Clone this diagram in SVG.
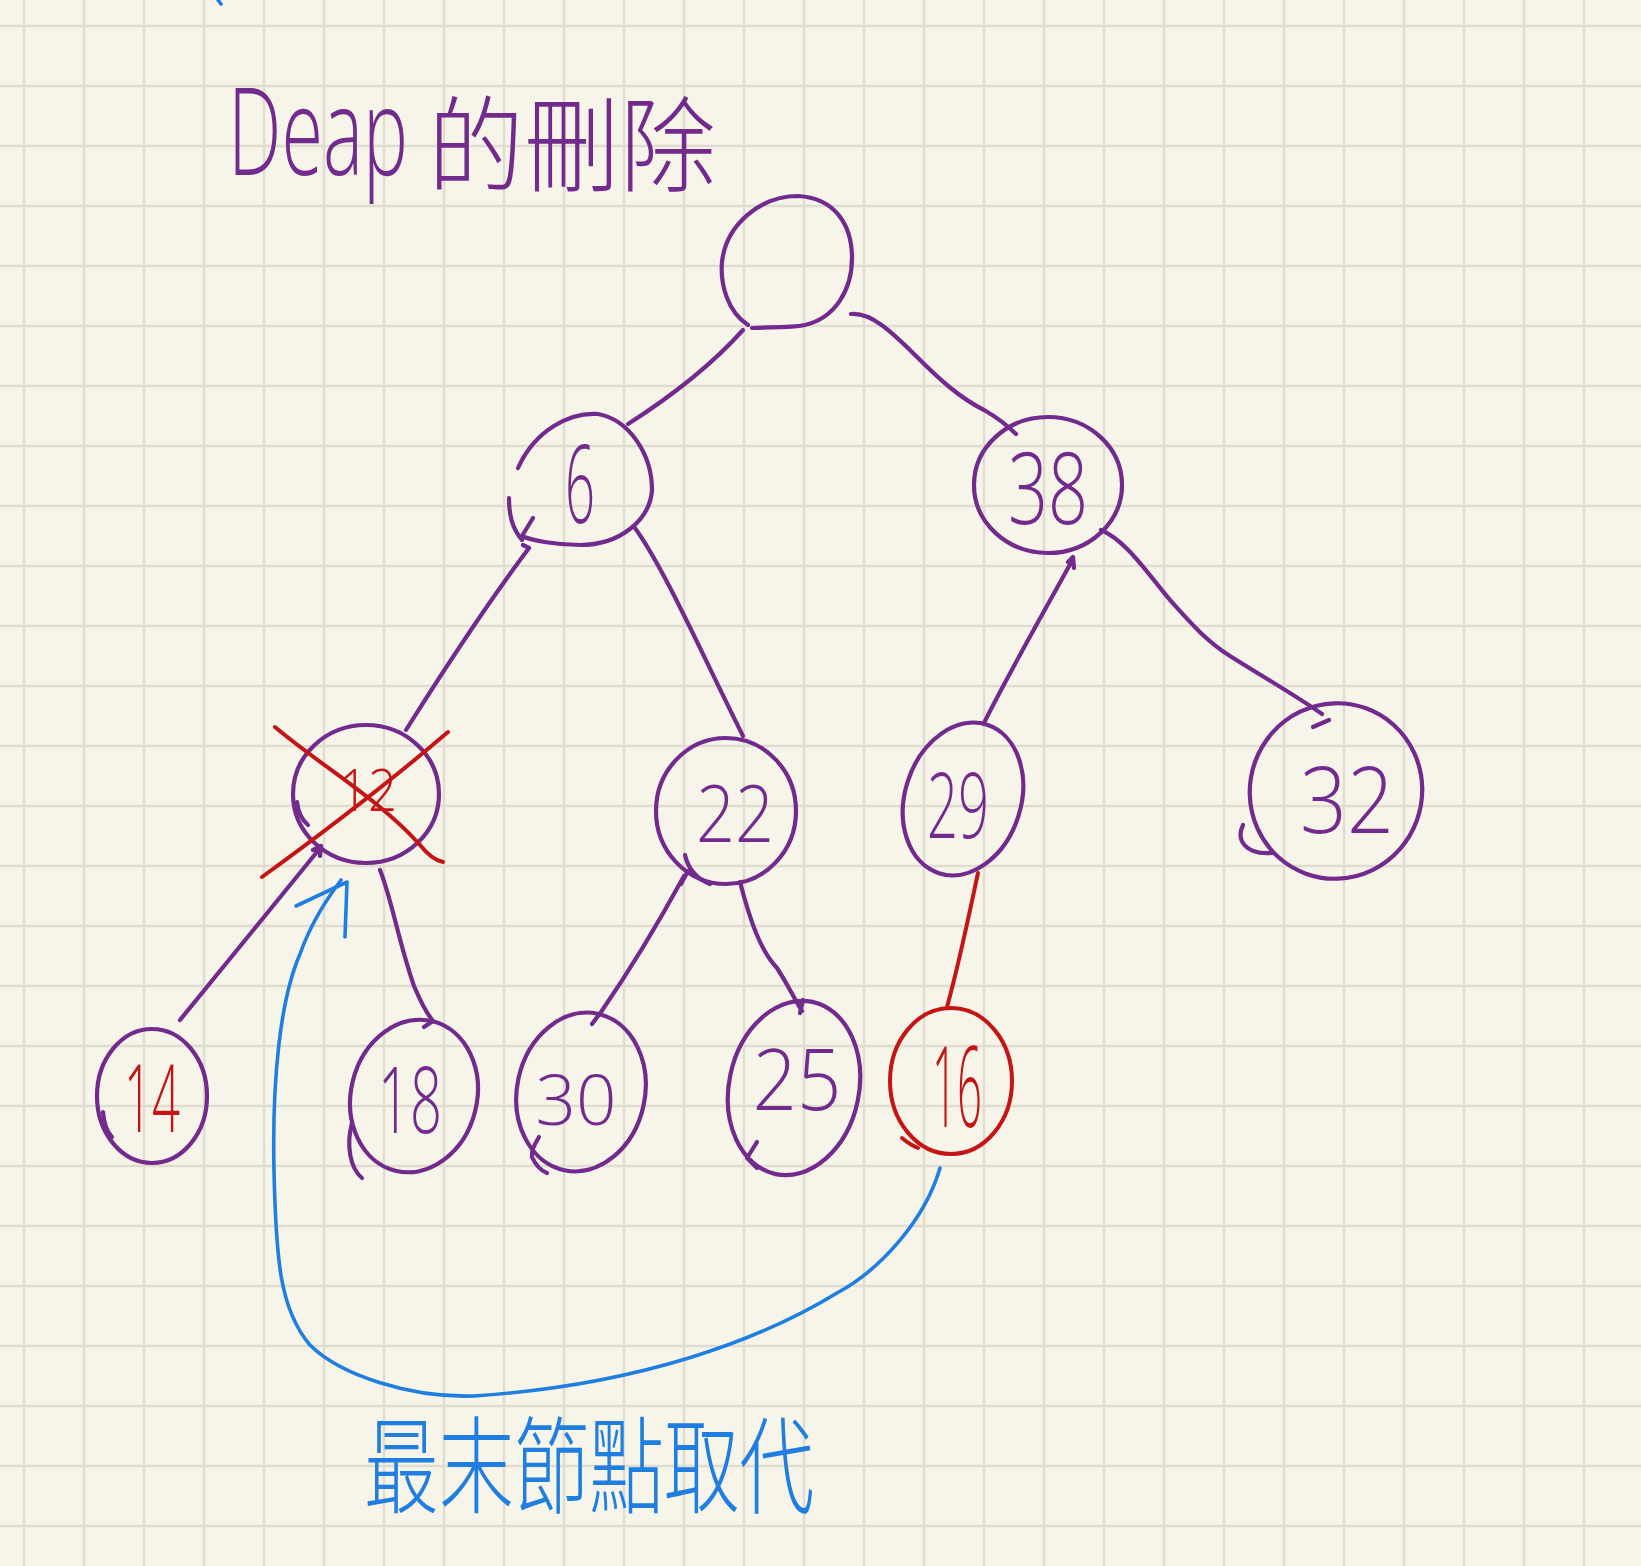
<svg xmlns="http://www.w3.org/2000/svg" width="1641" height="1566" viewBox="0 0 1641 1566">
<defs>
<pattern id="grid" width="60" height="60" patternUnits="userSpaceOnUse" x="-6" y="-4">
<path d="M30 0V60M0 30H60" stroke="#e0dcd0" stroke-width="2.5" fill="none"/>
</pattern>
<style>
.p{fill:none;stroke:#722a8c;stroke-width:4.2;stroke-linecap:round;stroke-linejoin:round}
.r{fill:none;stroke:#c41414;stroke-width:4;stroke-linecap:round;stroke-linejoin:round}
.b{fill:none;stroke:#1f7ee0;stroke-width:3.6;stroke-linecap:round;stroke-linejoin:round}
.d{font-family:"Open Sans","Liberation Sans",sans-serif;font-weight:300;text-anchor:middle}
.dp{fill:#722a8c}
.dr{fill:#c41414}
.cjk{font-family:"Noto Sans CJK TC","Noto Sans CJK SC",sans-serif;font-weight:300}
</style>
</defs>
<rect width="1641" height="1566" fill="#f7f5ea"/>
<rect width="1641" height="1566" fill="url(#grid)"/>
<path class="b" d="M218 0 L221 4" stroke-width="3"/>

<g id="title">
<text transform="translate(228 175) scale(0.62 1)" font-size="122" class="d dp" style="text-anchor:start">Deap</text>
<text x="428" y="184" font-size="104" class="cjk dp" textLength="288" lengthAdjust="spacingAndGlyphs">的刪除</text>
</g>

<g id="connectors">
<path class="p" d="M743 330 Q700 378 628 424"/>
<path class="p" d="M851 314 C870 312 890 330 916 356 C940 380 960 398 984 410 C998 418 1008 426 1016 434"/>
<path class="p" d="M523 545 L529 548 C490 600 450 660 406 730"/>
<path class="p" d="M635 528 C665 570 700 650 743 736"/>
<path class="p" d="M1073 559 C1045 610 1005 680 984 723 M1068 562 L1073 557 L1074 568"/>
<path class="p" d="M1101 530 C1125 540 1145 570 1170 600 C1190 622 1205 640 1230 656 C1260 675 1295 695 1322 714 M1329 720 L1313 727"/>
<path class="p" d="M321 847 L180 1020 M313 850 L321 846 L320 856"/>
<path class="p" d="M380 870 C392 900 398 940 414 986 C422 1005 428 1015 433 1021 L424 1027"/>
<path class="p" d="M688 871 L681 884 M684 876 C660 920 630 970 601 1012 L592 1024"/>
<path class="p" d="M740 882 C750 920 760 950 777 968 C788 985 795 1000 802 1011 M800 1013 L803 1000"/>
<path class="r" d="M978 873 C970 910 960 960 947 1007"/>
<path class="b" d="M940 1168 C925 1220 880 1270 837 1293 C760 1340 640 1385 474 1396 C410 1398 340 1375 310 1345 C280 1310 276 1260 274 1171 C272 1080 280 1000 300 954 C312 920 330 895 341 880"/>
<path class="b" d="M296 906 L347 882 L345 937"/>
</g>

<g id="node-root">
<path class="p" d="M748 325 C728 312 720 285 722 262 C726 225 760 196 798 196 C835 198 852 225 852 258 C852 290 835 318 805 325 C790 328 770 327 752 328"/>
</g>

<g id="node-6">
<path class="p" d="M518 468 C535 430 570 412 598 414 C630 420 652 455 652 490 C650 520 620 545 580 545 C555 545 530 540 522 536 L533 518 M509 498 C509 515 512 528 522 540"/>
<text x="580" y="523" font-size="108" class="d dp" textLength="30" lengthAdjust="spacingAndGlyphs">6</text>
</g>

<g id="node-38">
<ellipse class="p" cx="1048" cy="485" rx="74" ry="68"/>
<text x="1048" y="524" font-size="100" class="d dp" textLength="80" lengthAdjust="spacingAndGlyphs">38</text>
</g>

<g id="node-12">
<ellipse class="p" cx="366" cy="794" rx="73" ry="69"/>
<path class="p" d="M297 802 C298 812 302 820 308 825"/>
<text x="368" y="811" font-size="58" class="d dr" textLength="58" lengthAdjust="spacingAndGlyphs">12</text>
<path class="r" d="M275 727 C320 765 380 800 420 845 Q432 860 443 862"/>
<path class="r" d="M262 877 C320 835 380 790 448 732"/>
</g>

<g id="node-22">
<ellipse class="p" cx="726" cy="811" rx="70" ry="73"/>
<path class="p" d="M685 855 C688 868 695 878 710 884"/>
<text x="735" y="842" font-size="80" class="d dp" textLength="78" lengthAdjust="spacingAndGlyphs">22</text>
</g>

<g id="node-29">
<ellipse class="p" cx="963" cy="799" rx="58" ry="78" transform="rotate(18 963 799)"/>
<text x="958" y="838" font-size="90" class="d dp" textLength="62" lengthAdjust="spacingAndGlyphs">29</text>
</g>

<g id="node-32">
<ellipse class="p" cx="1336" cy="791" rx="86" ry="88" transform="rotate(20 1336 791)"/>
<path class="p" d="M1243 825 C1236 840 1245 855 1272 853"/>
<text x="1347" y="833" font-size="92" class="d dp" textLength="94" lengthAdjust="spacingAndGlyphs">32</text>
</g>

<g id="node-14">
<ellipse class="p" cx="152" cy="1096" rx="55" ry="67"/>
<path class="p" d="M103 1112 C104 1124 107 1132 112 1137"/>
<text x="152" y="1132" font-size="94" class="d dr" textLength="56" lengthAdjust="spacingAndGlyphs">14</text>
</g>

<g id="node-18">
<ellipse class="p" cx="414" cy="1096" rx="63" ry="77" transform="rotate(14 414 1096)"/>
<path class="p" d="M352 1123 C346 1145 350 1168 362 1178"/>
<text x="410" y="1133" font-size="92" class="d dp" textLength="64" lengthAdjust="spacingAndGlyphs">18</text>
</g>

<g id="node-30">
<ellipse class="p" cx="581" cy="1092" rx="64" ry="80" transform="rotate(12 581 1092)"/>
<path class="p" d="M539 1137 C534 1145 531 1152 532 1157 C536 1166 542 1171 547 1173"/>
<text x="576" y="1125" font-size="70" class="d dp" textLength="81" lengthAdjust="spacingAndGlyphs">30</text>
</g>

<g id="node-25">
<ellipse class="p" cx="794" cy="1088" rx="65" ry="88" transform="rotate(12 794 1088)"/>
<path class="p" d="M757 1142 L747 1158 L757 1168"/>
<text x="797" y="1110" font-size="84" class="d dp" textLength="89" lengthAdjust="spacingAndGlyphs">25</text>
</g>

<g id="node-16">
<ellipse class="r" cx="951" cy="1081" rx="61" ry="73"/>
<path class="r" d="M902 1138 C908 1143 913 1146 918 1148"/>
<text x="957" y="1127" font-size="112" class="d dr" textLength="50" lengthAdjust="spacingAndGlyphs">16</text>
</g>

<g id="caption">
<text x="364" y="1505" font-size="106" class="cjk" fill="#1f7ee0" textLength="450" lengthAdjust="spacingAndGlyphs">最末節點取代</text>
</g>
</svg>
